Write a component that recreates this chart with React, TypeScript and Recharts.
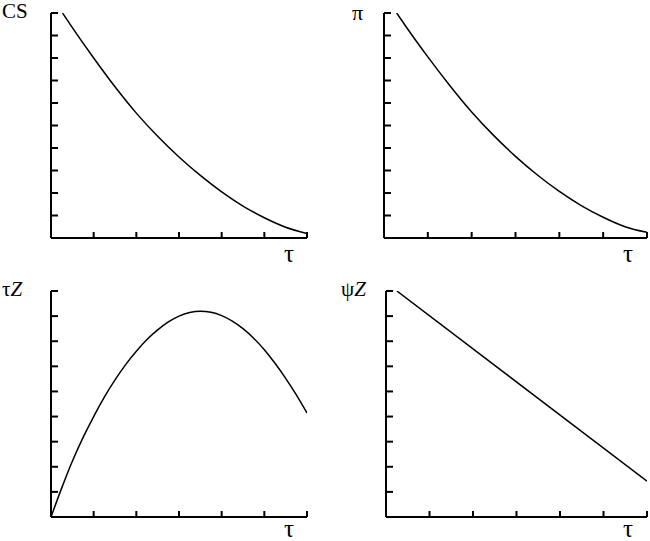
import React from "react";
import { LineChart, Line, XAxis, YAxis } from "recharts";

// ---- data ----
const tauTicks = [0, 1, 2, 3, 4, 5, 6];
const topYTicks = [0, 1, 2, 3, 4, 5, 6, 7, 8, 9, 10];
const bottomYTicks = [0, 1, 2, 3, 4, 5, 6, 7, 8, 9];

const csTau = [0.27, 0.5, 1, 1.5, 2, 2.5, 3, 3.5, 4, 4.5, 5, 5.5, 6];
const csValues = [10, 9.35, 8.0, 6.72, 5.55, 4.52, 3.6, 2.78, 2.05, 1.42, 0.9, 0.48, 0.2];

const piTau = [0.29, 0.5, 1, 1.5, 2, 2.5, 3, 3.5, 4, 4.5, 5, 5.5, 6];
const piValues = [10, 9.4, 8.05, 6.78, 5.6, 4.56, 3.63, 2.8, 2.07, 1.44, 0.92, 0.5, 0.25];

const tzTau = [0, 0.25, 0.5, 0.75, 1, 1.25, 1.5, 1.75, 2, 2.25, 2.5, 2.75, 3, 3.25, 3.5, 3.75, 4, 4.25, 4.5, 4.75, 5, 5.25, 5.5, 5.75, 6];
const tzValues = [0, 1.15, 2.22, 3.16, 4.0, 4.77, 5.46, 6.07, 6.6, 7.07, 7.45, 7.77, 8.0, 8.14, 8.19, 8.15, 8.02, 7.8, 7.5, 7.12, 6.66, 6.12, 5.52, 4.86, 4.14];

const psiTau = [0.25, 6];
const psiValues = [9, 1.43];

const build = (xs: number[], ys: number[]) => xs.map((x, i) => ({ x, y: ys[i] }));

const axisStroke = { stroke: "#000", strokeWidth: 2 };
const tickStroke = { stroke: "#000", strokeWidth: 2 };
const noLabel = () => <g />;

type PanelProps = {
  left: number;
  top: number;
  width: number;
  height: number;
  margin: { top: number; right: number; bottom: number; left: number };
  data: { x: number; y: number }[];
  yTicks: number[];
  curve: "monotone" | "linear";
};

function Panel({ left, top, width, height, margin, data, yTicks, curve }: PanelProps) {
  return (
    <div style={{ position: "absolute", left, top }}>
      <LineChart width={width} height={height} data={data} margin={margin}>
        <XAxis
          type="number"
          dataKey="x"
          domain={[0, 6]}
          ticks={tauTicks}
          tick={noLabel}
          height={1}
          mirror
          tickSize={6}
          axisLine={axisStroke}
          tickLine={tickStroke}
          allowDataOverflow
          interval={0}
        />
        <YAxis
          type="number"
          domain={[0, yTicks[yTicks.length - 1]]}
          ticks={yTicks}
          tick={noLabel}
          width={1}
          mirror
          tickSize={7}
          axisLine={axisStroke}
          tickLine={tickStroke}
          allowDataOverflow
          interval={0}
        />
        <Line
          type={curve}
          dataKey="y"
          stroke="#000"
          strokeWidth={1.5}
          dot={false}
          isAnimationActive={false}
        />
      </LineChart>
    </div>
  );
}

const font: React.CSSProperties = {
  fontFamily: "'Liberation Serif', 'Times New Roman', 'DejaVu Serif', serif",
  fontSize: 21,
  fill: "#000",
};
const tauFont: React.CSSProperties = { ...font, fontSize: 25 };

export default function App() {
  return (
    <div style={{ position: "absolute", left: 0, top: 0, width: 650, height: 541, background: "#fff" }}>
      <Panel left={0} top={0} width={325} height={270}
        margin={{ top: 13, right: 18, bottom: 32, left: 51 }}
        data={build(csTau, csValues)} yTicks={topYTicks} curve="monotone" />
      <Panel left={325} top={0} width={325} height={270}
        margin={{ top: 13, right: 3, bottom: 32, left: 59 }}
        data={build(piTau, piValues)} yTicks={topYTicks} curve="monotone" />
      <Panel left={0} top={270} width={325} height={271}
        margin={{ top: 21, right: 18, bottom: 24, left: 51 }}
        data={build(tzTau, tzValues)} yTicks={bottomYTicks} curve="monotone" />
      <Panel left={325} top={270} width={325} height={271}
        margin={{ top: 21, right: 3, bottom: 24, left: 61 }}
        data={build(psiTau, psiValues)} yTicks={bottomYTicks} curve="linear" />
      <svg width={650} height={541} style={{ position: "absolute", left: 0, top: 0, pointerEvents: "none" }}>
        <text x={2} y={18} style={font}>CS</text>
        <text x={352} y={20} style={{ ...font, fontSize: 22 }}>π</text>
        <text x={2} y={296} style={font}>τ<tspan style={{ fontStyle: "italic" }}>Z</tspan></text>
        <text x={341} y={296} style={font}>ψ<tspan style={{ fontStyle: "italic" }}>Z</tspan></text>
        <text x={284} y={262} style={tauFont}>τ</text>
        <text x={623} y={262} style={tauFont}>τ</text>
        <text x={284} y={537} style={tauFont}>τ</text>
        <text x={623} y={537} style={tauFont}>τ</text>
      </svg>
    </div>
  );
}
